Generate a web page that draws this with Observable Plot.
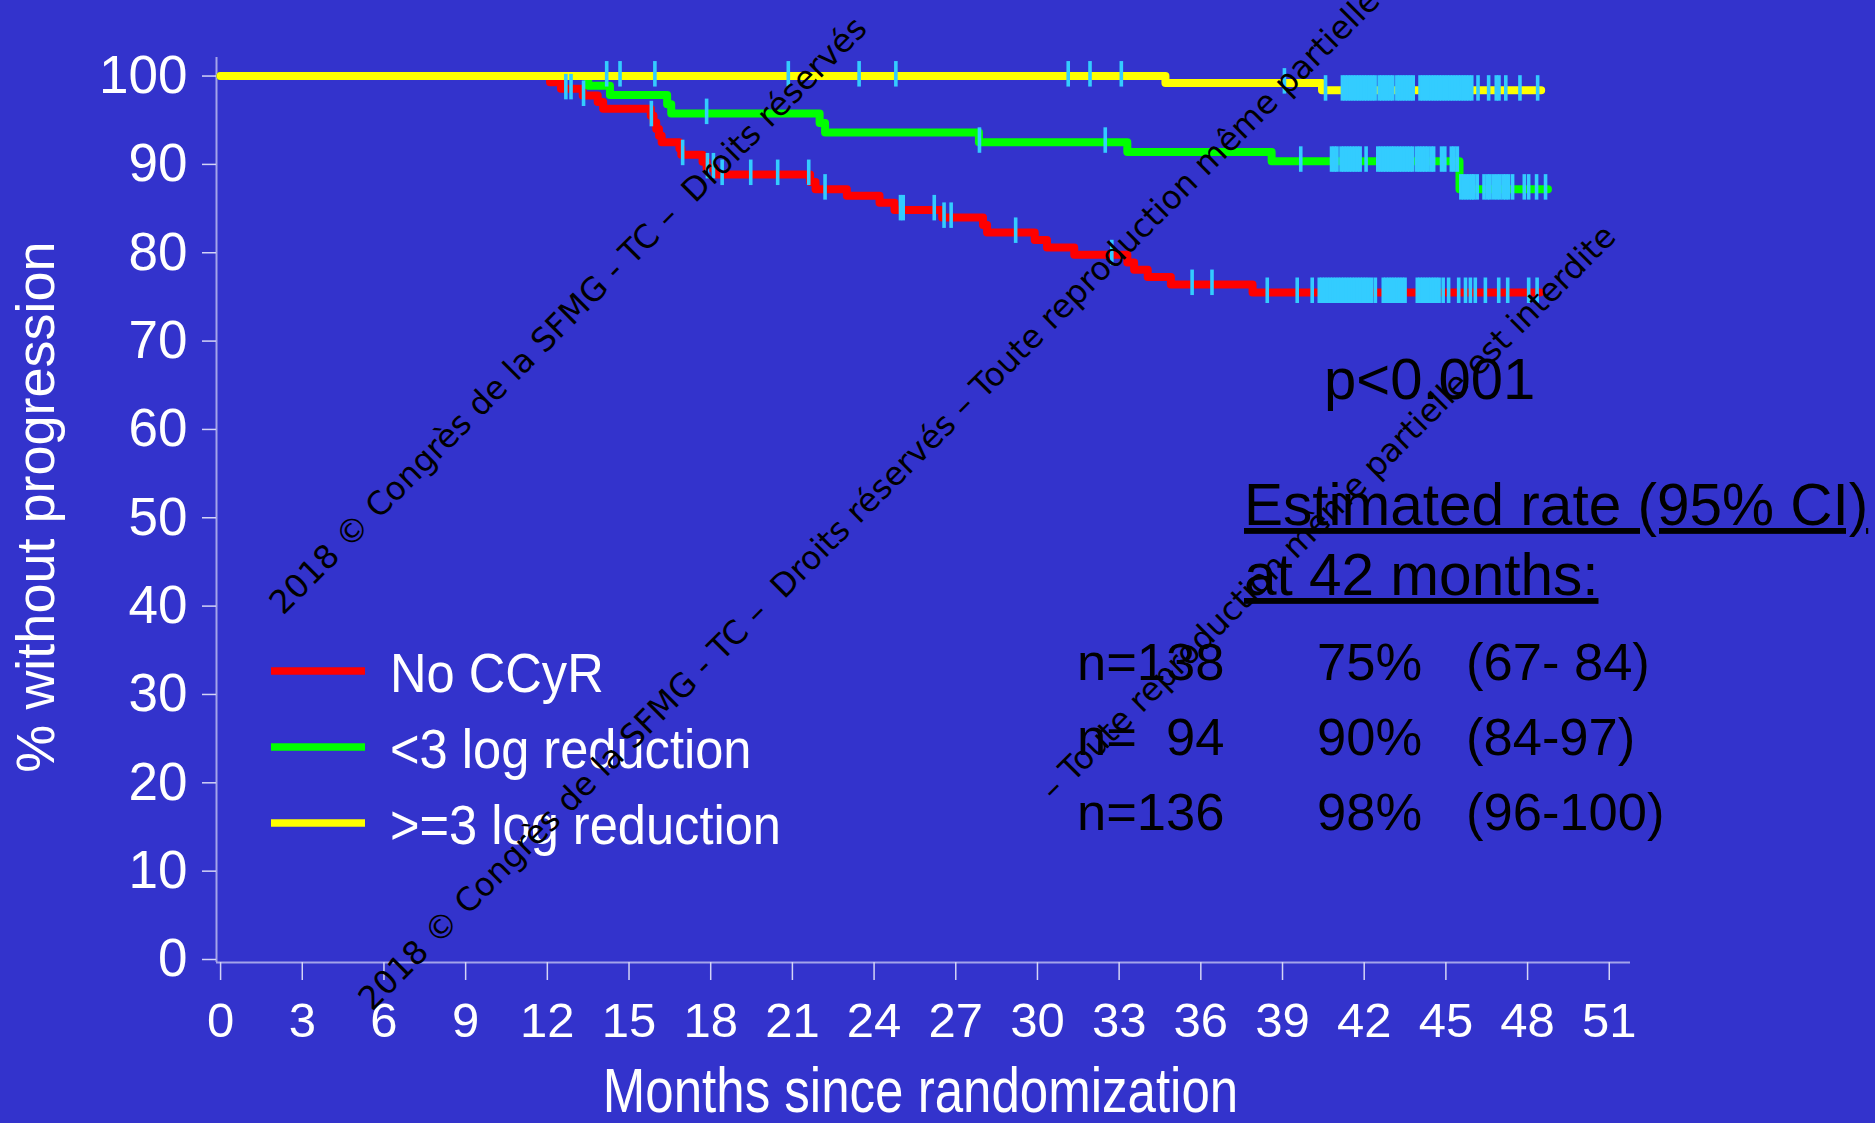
<!DOCTYPE html>
<html>
<head>
<meta charset="utf-8">
<script src="https://cdn.jsdelivr.net/npm/d3@7"></script>
<script src="https://cdn.jsdelivr.net/npm/@observablehq/plot@0.6"></script>
<style>
  html, body { margin: 0; padding: 0; background: #3333CC; }
  #chart { width: 1875px; height: 1123px; overflow: hidden; }
  svg text { white-space: pre; }
</style>
</head>
<body>
<div id="chart"></div>
<script>
// ---------------- data ----------------
const seriesNames = ["No CCyR", "<3 log reduction", ">=3 log reduction"];
const seriesColors = ["#FF0000", "#00FF00", "#FFFF00"];
const censorColor = "#33CCFF";

// Kaplan-Meier steps: time (months) and % without progression
const redTimes = [0, 12.1, 12.5, 13.3, 13.85, 14.05, 15.8, 15.9, 16.0, 16.1, 16.2, 16.85, 16.92, 17.7, 17.85, 18.15, 21.65, 21.85, 23.0, 24.2, 24.75, 26.5, 28.0, 28.15, 29.9, 30.35, 31.35, 33.3, 33.55, 34.05, 34.9, 37.9, 48.45];
const redSurv  = [100, 99.3, 98.55, 97.8, 97.05, 96.3, 95.5, 94.75, 94.0, 93.25, 92.5, 91.8, 91.1, 90.3, 89.6, 88.85, 88.0, 87.2, 86.45, 85.65, 84.85, 84.0, 83.15, 82.3, 81.45, 80.6, 79.77, 78.9, 78.07, 77.24, 76.4, 75.5, 75.5];
const redCensored = [12.68, 12.87, 13.33, 15.82, 16.97, 17.88, 18.1, 18.42, 19.47, 20.46, 21.6, 22.2, 24.97, 25.07, 26.21, 26.57, 26.83, 29.2, 32.73, 35.68, 36.41, 38.44, 39.54, 40.09, 40.35, 40.45, 40.55, 40.65, 40.75, 40.85, 40.95, 41.05, 41.15, 41.25, 41.35, 41.45, 41.55, 41.65, 41.75, 41.85, 41.95, 42.05, 42.15, 42.27, 42.41, 42.7, 42.8, 42.9, 43.0, 43.1, 43.2, 43.3, 43.4, 43.5, 43.95, 44.05, 44.15, 44.25, 44.35, 44.45, 44.55, 44.65, 44.75, 44.9, 45.1, 45.47, 45.72, 45.9, 46.08, 46.45, 46.94, 47.27, 48.04, 48.35];

const greenTimes = [0, 13.5, 14.3, 16.4, 16.55, 22.0, 22.2, 27.85, 33.3, 38.6, 45.5, 48.75];
const greenSurv  = [100, 98.9, 97.85, 96.8, 95.75, 94.7, 93.6, 92.5, 91.4, 90.35, 87.2, 87.2];
const greenCensored = [17.85, 27.87, 32.49, 39.67, 40.8, 40.9, 41.0, 41.15, 41.25, 41.35, 41.45, 41.55, 41.65, 41.75, 41.85, 42.07, 42.5, 42.6, 42.7, 42.8, 42.9, 43.0, 43.08, 43.18, 43.28, 43.38, 43.48, 43.58, 43.68, 43.78, 43.93, 44.03, 44.13, 44.23, 44.33, 44.45, 44.55, 44.84, 44.96, 45.2, 45.3, 45.42, 45.55, 45.65, 45.75, 45.85, 45.95, 46.03, 46.15, 46.4, 46.52, 46.62, 46.75, 46.87, 46.98, 47.1, 47.2, 47.3, 47.45, 47.88, 48.04, 48.33, 48.66];

const yellowTimes = [0, 34.7, 40.45, 48.5];
const yellowSurv  = [100, 99.2, 98.4, 98.4];
const yellowCensored = [14.18, 14.67, 15.95, 20.85, 23.45, 24.8, 31.13, 31.93, 33.08, 39.07, 40.58, 41.2, 41.3, 41.4, 41.5, 41.6, 41.7, 41.8, 41.9, 42.0, 42.1, 42.2, 42.3, 42.4, 42.55, 42.65, 42.75, 42.85, 42.95, 43.05, 43.2, 43.3, 43.4, 43.5, 43.6, 43.7, 43.8, 44.05, 44.15, 44.25, 44.35, 44.45, 44.55, 44.65, 44.75, 44.85, 44.95, 45.05, 45.15, 45.25, 45.35, 45.45, 45.55, 45.65, 45.75, 45.85, 45.95, 46.18, 46.57, 46.85, 46.95, 47.2, 47.72, 48.37];

const xTicks = [0, 3, 6, 9, 12, 15, 18, 21, 24, 27, 30, 33, 36, 39, 42, 45, 48, 51];
const yTicks = [0, 10, 20, 30, 40, 50, 60, 70, 80, 90, 100];
const xTitle = "Months since randomization";
const yTitle = "% without progression";

const pValueText = "p<0.001";
const rateHeader = ["Estimated rate (95% CI)", "at 42 months:"];
const rowN    = ["n=138", "n=  94", "n=136"];
const rowRate = ["75%", "90%", "98%"];
const rowCI   = ["(67- 84)", "(84-97)", "(96-100)"];

const watermarks = [
  "2018 © Congrès de la SFMG - TC –  Droits réservés",
  "2018 © Congrès de la SFMG - TC –  Droits réservés – Toute reproduction même partielle",
  "– Toute reproduction même partielle est interdite"
];

// ---------------- build tables ----------------
const groups = [
  {name: seriesNames[0], T: redTimes, S: redSurv, C: redCensored},
  {name: seriesNames[1], T: greenTimes, S: greenSurv, C: greenCensored},
  {name: seriesNames[2], T: yellowTimes, S: yellowSurv, C: yellowCensored}
];
const curvePoints = groups.flatMap(g => g.T.map((t, i) => ({series: g.name, t, v: g.S[i]})));
function survAt(g, t) {
  let v = g.S[0];
  g.T.forEach((tt, i) => { if (tt <= t) v = g.S[i]; });
  return v;
}
const censorPoints = groups.flatMap(g => g.C.map(t => ({series: g.name, t, v: survAt(g, t)})));

// vertical tick symbol for censored observations
const censorSymbol = {
  draw(ctx) {
    ctx.moveTo(-1.8, -15); ctx.lineTo(1.8, -15); ctx.lineTo(1.8, 10.5); ctx.lineTo(-1.8, 10.5); ctx.closePath();
  }
};

const xDomain = [-0.15, 51.78];
const yDomain = [-0.34, 102.1];
const axisColor = "#A4A4EA";
const tickColor = "#D4D4F6";
const fontSans = "'Liberation Sans', Arial, Helvetica, sans-serif";

const chart = Plot.plot({
  width: 1875,
  height: 1123,
  marginLeft: 216,
  marginRight: 245,
  marginTop: 57,
  marginBottom: 161,
  style: {background: "#3333CC", color: "white", fontFamily: fontSans, overflow: "hidden"},
  x: {domain: xDomain},
  y: {domain: yDomain},
  color: {domain: seriesNames, range: seriesColors},
  marks: [
    Plot.ruleY([yDomain[0]], {stroke: axisColor, strokeWidth: 2}),
    Plot.ruleX([xDomain[0]], {stroke: axisColor, strokeWidth: 2}),
    Plot.axisX({ticks: xTicks, tickSize: 18, tickPadding: 22, fontSize: 49, color: "white", stroke: tickColor, strokeWidth: 1.5, label: null}),
    Plot.axisY({ticks: yTicks, tickSize: 14, tickPadding: 15, fontSize: 53, color: "white", stroke: tickColor, strokeWidth: 1.5, label: null}),
    Plot.line(curvePoints, {x: "t", y: "v", z: "series", stroke: "series", curve: "step-after", strokeWidth: 8, strokeLinecap: "round", strokeLinejoin: "round"}),
    Plot.dot(censorPoints, {x: "t", y: "v", symbol: censorSymbol, r: 4, fill: censorColor, stroke: "none"}),
    Plot.text([xTitle], {text: d => d, frameAnchor: "bottom", textAnchor: "middle", dx: -3, dy: 149, lineAnchor: "bottom", fontSize: 63, fill: "white"}),
    Plot.text([yTitle], {text: d => d, frameAnchor: "left", textAnchor: "middle", dx: -163, dy: -3, rotate: -90, lineAnchor: "bottom", fontSize: 54, fill: "white"})
  ]
});

document.getElementById("chart").appendChild(chart);

// ---------------- overlay: legend, annotations, watermark ----------------
const svg = d3.select(chart);

const leg = svg.append("g").attr("aria-label", "legend").attr("font-family", fontSans).attr("text-anchor", "start");
seriesNames.forEach((name, i) => {
  leg.append("line")
    .attr("x1", 271).attr("x2", 365)
    .attr("y1", 671 + 76 * i).attr("y2", 671 + 76 * i)
    .attr("stroke", seriesColors[i]).attr("stroke-width", 7.5);
  leg.append("text")
    .attr("class", "leg-text")
    .attr("x", 390).attr("y", 692 + 76 * i)
    .attr("font-size", 55).attr("fill", "white")
    .text(name);
});

const ann = svg.append("g").attr("aria-label", "annotations").attr("font-family", fontSans).attr("fill", "black").attr("text-anchor", "start");
ann.append("text").attr("x", 1324).attr("y", 399).attr("font-size", 58).text(pValueText);
rateHeader.forEach((s, i) => {
  ann.append("text").attr("x", 1244).attr("y", 525 + 70 * i).attr("font-size", 58.5)
    .style("text-decoration", "underline").text(s);
});
rowN.forEach((s, i) => ann.append("text").attr("x", 1077).attr("y", 680 + 75 * i).attr("font-size", 52.5).text(s));
rowRate.forEach((s, i) => ann.append("text").attr("x", 1317).attr("y", 680 + 75 * i).attr("font-size", 52.5).text(s));
rowCI.forEach((s, i) => ann.append("text").attr("x", 1466).attr("y", 680 + 75 * i).attr("font-size", 52.5).text(s));

const wmPos = [[283, 616], [372, 1012], [1054, 802]];
const wm = svg.append("g").attr("aria-label", "watermark").attr("font-family", "'DejaVu Sans', Verdana, sans-serif").attr("fill", "black").attr("text-anchor", "start");
watermarks.forEach((s, i) => {
  wm.append("text")
    .attr("transform", `translate(${wmPos[i][0]},${wmPos[i][1]}) rotate(-45)`)
    .attr("font-size", 32.5)
    .text(s);
});

// condensed faces (the original uses narrow type for some labels)
function condense(el, ratio) {
  const len = el.getComputedTextLength();
  el.setAttribute("textLength", (len * ratio).toFixed(1));
  el.setAttribute("lengthAdjust", "spacingAndGlyphs");
}
svg.selectAll("text").filter(function() { return this.textContent === xTitle; }).each(function() { condense(this, 0.81); });
svg.selectAll("text.leg-text").each(function() { condense(this, 0.92); });
</script>
</body>
</html>
